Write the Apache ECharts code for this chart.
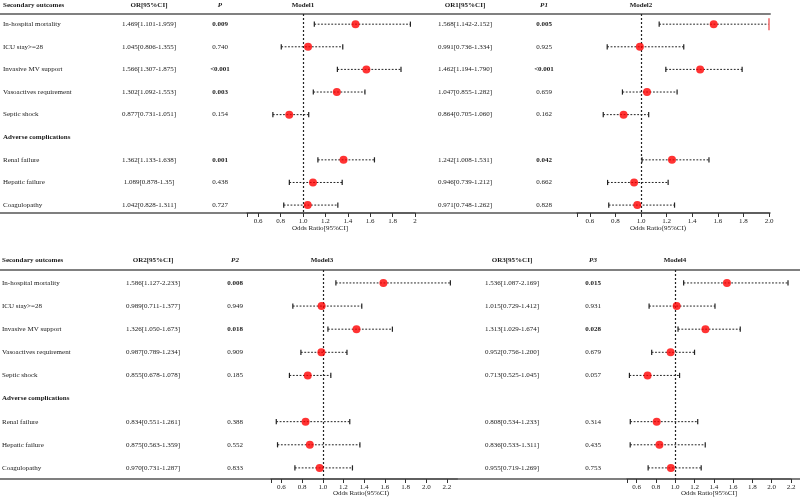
<!DOCTYPE html>
<html><head><meta charset="utf-8">
<script src="https://cdn.jsdelivr.net/npm/echarts@6/dist/echarts.min.js"></script>
<style>html,body{margin:0;padding:0;background:#fff}#c{width:800px;height:499px}</style>
</head><body><div id="c"></div>
<script>
// ---------------- DATA ----------------
const sectionTitles = ["Secondary outcomes", "Adverse complications"];
const secondaryOutcomes = ["In-hospital mortality", "ICU stay>=28", "Invasive MV support", "Vasoactives requirement", "Septic shock"];
const adverseComplications = ["Renal failure", "Hepatic failure", "Coagulopathy"];

const model1OR    = ["1.469","1.045","1.566","1.302","0.877","1.362","1.089","1.042"];
const model1Lower = ["1.101","0.806","1.307","1.092","0.731","1.133","0.878","0.828"];
const model1Upper = ["1.959","1.355","1.875","1.553","1.051","1.638","1.35","1.311"];
const model1P     = ["0.009","0.740","<0.001","0.003","0.154","0.001","0.438","0.727"];

const model2OR    = ["1.568","0.991","1.462","1.047","0.864","1.242","0.946","0.971"];
const model2Lower = ["1.142","0.736","1.194","0.855","0.705","1.008","0.739","0.748"];
const model2Upper = ["2.152","1.334","1.790","1.282","1.060","1.531","1.212","1.262"];
const model2P     = ["0.005","0.925","<0.001","0.659","0.162","0.042","0.662","0.828"];

const model3OR    = ["1.586","0.989","1.326","0.987","0.855","0.834","0.875","0.970"];
const model3Lower = ["1.127","0.711","1.050","0.789","0.678","0.551","0.563","0.731"];
const model3Upper = ["2.233","1.377","1.673","1.234","1.078","1.261","1.359","1.287"];
const model3P     = ["0.008","0.949","0.018","0.909","0.185","0.388","0.552","0.833"];

const model4OR    = ["1.536","1.015","1.313","0.952","0.713","0.808","0.836","0.955"];
const model4Lower = ["1.087","0.729","1.029","0.756","0.525","0.534","0.533","0.719"];
const model4Upper = ["2.169","1.412","1.674","1.200","1.045","1.233","1.311","1.269"];
const model4P     = ["0.015","0.931","0.028","0.679","0.057","0.314","0.435","0.753"];

const ticksModel1 = ["0.6","0.8","1.0","1.2","1.4","1.6","1.8","2"];
const ticksModel2 = ["0.6","0.8","1.0","1.2","1.4","1.6","1.8","2.0"];
const ticksModel3 = ["0.6","0.8","1.0","1.2","1.4","1.6","1.8","2.0","2.2"];
const ticksModel4 = ["0.6","0.8","1.0","1.2","1.4","1.6","1.8","2.0","2.2"];

// ---------------- LAYOUT ----------------
const FONT = '"Liberation Serif", "Times New Roman", serif';
const FS = 7;
const TXT = '#1a1a1a';
const halves = [
  {top: 14, height: 199, min: -0.45, max: 8.35, width: 770, headerRow: -0.84, nameRow: 9.03, nameX0: 3},
  {top: 270, height: 209, min: -0.56, max: 8.48, width: 800, headerRow: -0.99, nameRow: 9.1, nameX0: 2}
];
const panels = [
  {half: 0, model: "Model1", orHead: "OR[95%CI]",  pHead: "P",  or: model1OR, lo: model1Lower, hi: model1Upper, p: model1P, ticks: ticksModel1,
   orX: 149, pX: 220, modelX: 303, left: 247, width: 168, axMax: 2.0, axisName: "Odds Ratio[95%CI]", axisNameX: 320},
  {half: 0, model: "Model2", orHead: "OR1[95%CI]", pHead: "P1", or: model2OR, lo: model2Lower, hi: model2Upper, p: model2P, ticks: ticksModel2,
   orX: 465, pX: 544, modelX: 641, left: 577, width: 192, axMax: 2.0, axisName: "Odds Ratio(95%CI)", axisNameX: 658},
  {half: 1, model: "Model3", orHead: "OR2[95%CI]", pHead: "P2", or: model3OR, lo: model3Lower, hi: model3Upper, p: model3P, ticks: ticksModel3,
   orX: 153, pX: 235, modelX: 322, left: 271, width: 186.3, axMax: 2.3, axisName: "Odds Ratio(95%CI)", axisNameX: 361},
  {half: 1, model: "Model4", orHead: "OR3[95%CI]", pHead: "P3", or: model4OR, lo: model4Lower, hi: model4Upper, p: model4P, ticks: ticksModel4,
   orX: 512, pX: 593, modelX: 675, left: 627, width: 164, axMax: 2.2, axisName: "Odds Ratio[95%CI]", axisNameX: 709}
];

const outcomeNames = secondaryOutcomes.concat(adverseComplications);
const outcomeRows = secondaryOutcomes.map((_, i) => i).concat(adverseComplications.map((_, i) => secondaryOutcomes.length + 1 + i));
const adverseRow = secondaryOutcomes.length;

// ---------------- BUILD ----------------
const grids = [], xAxes = [], yAxes = [], series = [];

halves.forEach((h, hi) => {
  grids.push({left: 0, top: h.top, width: h.width, height: h.height, outerBoundsMode: 'none', containLabel: false});
  yAxes.push({gridIndex: hi, type: 'value', inverse: true, min: h.min, max: h.max, show: false});
  xAxes.push({gridIndex: hi, type: 'value', position: 'bottom', min: 0, max: h.width,
    axisLine: {show: true, onZero: false, lineStyle: {color: '#555', width: 1.5}}, axisTick: {show: false}, axisLabel: {show: false}, splitLine: {show: false}});
  xAxes.push({gridIndex: hi, type: 'value', position: 'top', min: 0, max: h.width,
    axisLine: {show: true, onZero: false, lineStyle: {color: '#808080', width: 2}}, axisTick: {show: false}, axisLabel: {show: false}, splitLine: {show: false}});
});

// text items per half
const textItems = [[], []];
halves.forEach((h, hi) => {
  const t = textItems[hi];
  t.push({x: h.nameX0, row: h.headerRow, text: sectionTitles[0], align: 'left', bold: true});
  t.push({x: h.nameX0, row: adverseRow, text: sectionTitles[1], align: 'left', bold: true});
  outcomeNames.forEach((n, i) => t.push({x: h.nameX0, row: outcomeRows[i], text: n, align: 'left'}));
});
panels.forEach(pn => {
  const t = textItems[pn.half];
  const h = halves[pn.half];
  t.push({x: pn.orX, row: h.headerRow, text: pn.orHead, align: 'center', bold: true});
  t.push({x: pn.pX, row: h.headerRow, text: pn.pHead, align: 'center', bold: true, italic: true});
  t.push({x: pn.modelX, row: h.headerRow, text: pn.model, align: 'center', bold: true});
  pn.or.forEach((v, i) => {
    t.push({x: pn.orX, row: outcomeRows[i], text: v + '[' + pn.lo[i] + '-' + pn.hi[i] + ']', align: 'center'});
    const pv = pn.p[i];
    const sig = pv.charAt(0) === '<' || parseFloat(pv) < 0.05;
    t.push({x: pn.pX, row: outcomeRows[i], text: pv, align: 'center', bold: sig});
  });
  t.push({x: pn.axisNameX, row: h.nameRow, text: pn.axisName, align: 'center'});
});

halves.forEach((h, hi) => {
  const items = textItems[hi];
  series.push({
    type: 'custom', xAxisIndex: hi * 2, yAxisIndex: hi, silent: true, clip: false, z: 5,
    data: items.map(it => [it.x, it.row]),
    renderItem: (params, api) => {
      const it = items[params.dataIndex];
      const c = api.coord([api.value(0), api.value(1)]);
      return {type: 'text', x: c[0], y: c[1], style: {
        text: it.text, align: it.align, verticalAlign: 'middle', fill: TXT,
        font: (it.italic ? 'italic ' : '') + (it.bold ? 'bold ' : '') + FS + 'px ' + FONT}};
    }
  });
});

panels.forEach((pn, k) => {
  const h = halves[pn.half];
  const gi = grids.length;
  grids.push({left: pn.left, top: h.top, width: pn.width, height: h.height, outerBoundsMode: 'none', containLabel: false});
  yAxes.push({gridIndex: gi, type: 'value', inverse: true, min: h.min, max: h.max, show: false});
  const tickNums = pn.ticks.map(Number);
  const labelOf = {};
  pn.ticks.forEach(s => { labelOf[Number(s).toFixed(1)] = s; });
  const xi = xAxes.length;
  xAxes.push({gridIndex: gi, type: 'value', position: 'bottom', min: 0.5, max: pn.axMax,
    axisLine: {show: true, onZero: false, lineStyle: {color: '#555', width: 1.5}},
    axisTick: {show: true, length: 4, inside: false, customValues: [0.5].concat(tickNums), lineStyle: {color: '#333', width: 1}},
    axisLabel: {show: true, customValues: tickNums, margin: 5, fontSize: FS, fontFamily: FONT, color: '#222',
      formatter: v => labelOf[Number(v).toFixed(1)] || ''},
    splitLine: {show: false}});
  const axMax = pn.axMax;
  series.push({
    type: 'custom', xAxisIndex: xi, yAxisIndex: gi, silent: true, z: 3, clip: false,
    data: pn.or.map((v, i) => [Number(pn.lo[i]), outcomeRows[i], Number(pn.hi[i])]),
    renderItem: (params, api) => {
      const lo = api.value(0), row = api.value(1), hiV = api.value(2);
      const clipped = hiV > axMax;
      const a = api.coord([lo, row]);
      const b = api.coord([Math.min(hiV, axMax), row]);
      const hh = 2.6, hc = 6;
      return {type: 'group', children: [
        {type: 'line', shape: {x1: a[0], y1: a[1], x2: b[0], y2: b[1]}, style: {stroke: '#222', lineWidth: 1, lineDash: [1.8, 1.6]}},
        {type: 'line', shape: {x1: a[0], y1: a[1] - hh, x2: a[0], y2: a[1] + hh}, style: {stroke: '#222', lineWidth: 1.2}},
        {type: 'line', shape: {x1: b[0], y1: b[1] - (clipped ? hc : hh), x2: b[0], y2: b[1] + (clipped ? hc : hh)},
          style: {stroke: clipped ? '#f07070' : '#222', lineWidth: clipped ? 1.6 : 1.2}}
      ]};
    },
    markLine: {silent: true, symbol: ['none', 'none'], label: {show: false}, animation: false,
      lineStyle: {type: [2, 2], color: '#222', width: 1.2}, data: [{xAxis: 1}]}
  });
  series.push({
    type: 'scatter', xAxisIndex: xi, yAxisIndex: gi, silent: true, z: 6,
    symbol: 'circle', symbolSize: 8, itemStyle: {color: '#ff0000'},
    data: pn.or.map((v, i) => [Number(v), outcomeRows[i]])
  });
});

const chart = echarts.init(document.getElementById('c'), null, {renderer: 'canvas'});
chart.setOption({
  animation: false,
  backgroundColor: '#fff',
  grid: grids, xAxis: xAxes, yAxis: yAxes, series: series
});
</script>
</body></html>
